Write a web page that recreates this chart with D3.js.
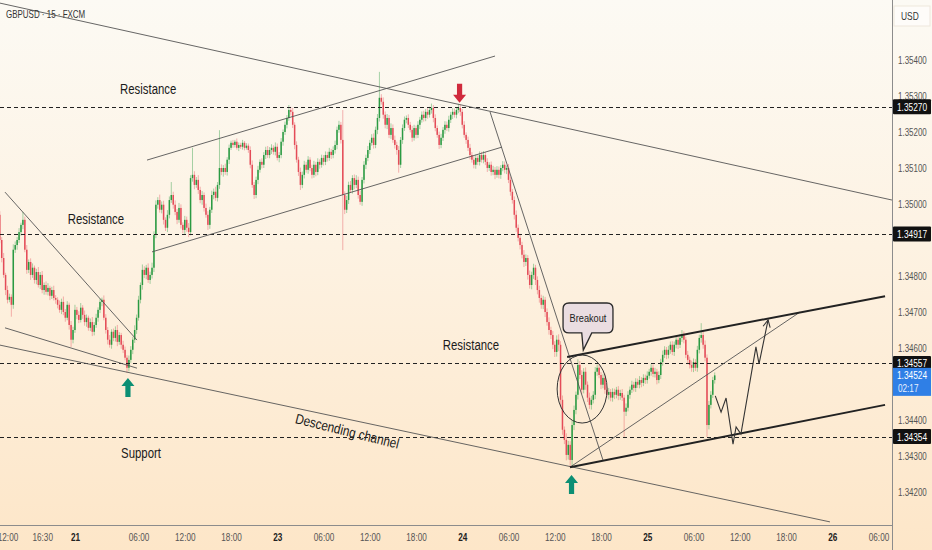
<!DOCTYPE html>
<html><head><meta charset="utf-8">
<script src="https://cdn.jsdelivr.net/npm/d3@7"></script>
<style>html,body{margin:0;padding:0;overflow:hidden;background:#fdf3e2}
text{font-family:"Liberation Sans",Arial,sans-serif}</style>
</head><body><svg id="c" width="932" height="550"></svg>
<script>
// ---------------- DATA ----------------
const symbolTitle = "GBPUSD · 15 · FXCM";
const firstIndex = -4;          // bar index of first candle
const firstOpen = 1.34970;
const closes = [
1.34900,1.34850,1.34803,1.34761,1.34734,1.34742,1.34720,1.34873,1.34886,1.34900,
1.34922,1.34942,1.34956,1.34873,1.34817,1.34839,1.34803,1.34823,1.34789,1.34811,
1.34775,1.34803,1.34761,1.34775,1.34756,1.34767,1.34745,1.34761,1.34739,1.34734,
1.34720,1.34706,1.34728,1.34700,1.34684,1.34720,1.34664,1.34623,1.34650,1.34706,
1.34692,1.34678,1.34712,1.34692,1.34672,1.34684,1.34656,1.34672,1.34645,1.34664,
1.34684,1.34706,1.34728,1.34734,1.34684,1.34650,1.34623,1.34609,1.34645,1.34628,
1.34650,1.34617,1.34636,1.34609,1.34595,1.34573,1.34545,1.34567,1.34595,1.34623,
1.34650,1.34684,1.34734,1.34775,1.34817,1.34803,1.34823,1.34789,1.34803,1.34823,
1.34914,1.34998,1.35011,1.34984,1.34998,1.34956,1.34934,1.34970,1.35011,1.35025,
1.34998,1.34978,1.34956,1.34989,1.34942,1.34928,1.34956,1.34934,1.34922,1.35072,
1.35081,1.35053,1.35067,1.35039,1.35011,1.35025,1.34989,1.34970,1.34942,1.34984,
1.35025,1.35034,1.35017,1.35053,1.35100,1.35089,1.35100,1.35089,1.35123,1.35156,
1.35170,1.35164,1.35173,1.35156,1.35164,1.35159,1.35170,1.35156,1.35162,1.35150,
1.35109,1.35053,1.35025,1.35067,1.35095,1.35117,1.35109,1.35136,1.35150,1.35136,
1.35150,1.35156,1.35145,1.35159,1.35128,1.35136,1.35173,1.35200,1.35220,1.35239,
1.35261,1.35256,1.35220,1.35164,1.35123,1.35089,1.35053,1.35081,1.35109,1.35095,
1.35123,1.35100,1.35081,1.35109,1.35089,1.35117,1.35109,1.35128,1.35117,1.35136,
1.35128,1.35145,1.35136,1.35150,1.35164,1.35206,1.35220,1.35178,1.35025,1.34984,
1.35011,1.35053,1.35039,1.35072,1.35053,1.35067,1.35025,1.35006,1.35067,1.35109,
1.35128,1.35150,1.35170,1.35184,1.35164,1.35206,1.35239,1.35295,1.35284,1.35248,
1.35220,1.35239,1.35192,1.35211,1.35178,1.35164,1.35150,1.35109,1.35178,1.35211,
1.35234,1.35239,1.35220,1.35206,1.35184,1.35211,1.35192,1.35220,1.35234,1.35248,
1.35239,1.35256,1.35248,1.35261,1.35267,1.35239,1.35211,1.35192,1.35164,1.35184,
1.35206,1.35220,1.35211,1.35234,1.35248,1.35256,1.35248,1.35261,1.35267,1.35256,
1.35220,1.35192,1.35178,1.35156,1.35136,1.35123,1.35109,1.35128,1.35117,1.35136,
1.35123,1.35136,1.35117,1.35100,1.35109,1.35089,1.35095,1.35081,1.35095,1.35081,
1.35100,1.35109,1.35095,1.35100,1.35067,1.35034,1.35011,1.34970,1.34934,1.34906,
1.34886,1.34859,1.34839,1.34850,1.34803,1.34775,1.34803,1.34823,1.34789,1.34761,
1.34739,1.34720,1.34734,1.34700,1.34672,1.34650,1.34636,1.34609,1.34589,1.34623,
1.34609,1.34456,1.34373,1.34345,1.34303,1.34331,1.34289,1.34386,1.34428,1.34470,
1.34553,1.34525,1.34484,1.34534,1.34498,1.34462,1.34442,1.34456,1.34470,1.34534,
1.34545,1.34525,1.34498,1.34517,1.34484,1.34470,1.34478,1.34462,1.34478,1.34470,
1.34484,1.34467,1.34475,1.34462,1.34423,1.34434,1.34470,1.34484,1.34498,1.34489,
1.34506,1.34498,1.34511,1.34503,1.34517,1.34511,1.34523,1.34534,1.34545,1.34528,
1.34534,1.34511,1.34525,1.34561,1.34581,1.34595,1.34581,1.34595,1.34609,1.34589,
1.34609,1.34623,1.34609,1.34628,1.34636,1.34623,1.34581,1.34567,1.34553,1.34545,
1.34561,1.34545,1.34595,1.34628,1.34636,1.34609,1.34573,1.34386,1.34442,1.34470,
1.34511,1.34524];
// wick lengths beyond body, in points (0.00001)
const wickUp = [
10,8,14,6,12,9,7,15,10,8, 11,6,22,9,13,7,10,12,6,9, 14,8,11,7,10,13,6,9,12,8, 7,12,9,15,8,10,6,11,9,14,
8,10,13,7,12,9,6,10,14,8, 11,7,9,6,12,10,8,13,7,9, 10,14,8,6,11,9,7,12,10,8, 13,9,11,7,15,10,8,12,9,14,
10,12,8,15,9,11,7,13,10,36, 9,12,8,14,10,7,11,9,13,8, 75,10,8,13,9,11,7,12,10,8, 12,9,14,8,105,10,8,12,7,9,
6,8,5,9,7,6,8,5,7,6, 10,12,8,9,11,7,10,8,9,11, 8,10,7,12,9,8,10,7,9,8, 14,9,11,7,10,8,12,9,11,8,
10,7,9,11,8,10,7,9,8,10, 9,11,8,10,12,9,11,8,83,10, 12,9,11,8,10,13,9,12,8,10, 9,11,8,10,12,9,11,72,10,12,
9,11,8,13,10,12,9,11,8,10, 9,7,10,8,11,9,7,10,8,9, 11,8,10,9,12,8,10,7,9,11, 8,10,9,11,8,10,9,7,11,9,
8,10,7,9,11,8,10,9,7,10, 9,11,8,10,7,9,11,8,10,9, 8,10,9,7,11,9,8,10,12,9, 11,9,13,10,8,12,9,11,8,10,
12,9,11,8,10,13,9,11,10,12, 15,10,12,9,18,11,10,14,12,9, 16,11,13,10,12,9,14,11,10,13, 9,11,8,10,12,9,11,8,10,9,
8,10,9,11,8,12,10,9,11,8, 10,9,11,8,10,9,12,8,10,9, 11,8,10,9,12,10,8,11,9,10, 9,11,8,10,14,10,8,11,9,12,
10,8,11,9,33,10,12,9,11,10, 9,8];
const wickDn = [
9,12,8,14,10,7,33,11,9,13, 8,10,12,7,11,9,14,8,10,12, 7,11,9,13,8,10,12,9,7,11, 10,8,12,9,11,7,13,20,10,8,
12,9,7,11,10,13,8,9,12,10, 8,11,9,12,7,10,13,8,11,9, 10,12,8,11,9,7,14,10,8,12, 9,11,8,10,13,9,12,8,11,10,
12,9,11,8,10,13,9,12,10,8, 11,9,12,8,10,9,13,11,14,9, 10,12,8,11,9,13,10,8,14,11, 9,12,8,10,11,9,13,8,10,12,
6,8,7,5,9,6,8,7,5,8, 10,8,11,9,12,8,10,9,11,8, 9,11,8,10,7,12,9,11,8,10, 8,10,9,12,8,11,14,9,10,8,
11,9,10,8,12,9,11,8,10,9, 10,8,11,9,10,12,8,10,153,12, 9,11,8,10,12,9,10,8,11,10, 12,9,11,8,10,9,12,10,8,11,
10,12,9,11,8,10,13,22,9,11, 8,10,9,7,11,8,10,9,12,8, 10,9,11,8,10,12,9,8,11,9, 9,11,8,10,9,12,8,10,9,11,
10,8,11,9,12,8,10,11,9,10, 8,10,9,11,8,10,9,12,8,10, 11,9,10,12,9,11,10,13,11,10, 12,10,14,11,13,10,12,11,14,12,
13,11,12,14,10,13,11,12,14,13, 18,16,14,12,15,13,20,16,14,12, 13,11,12,10,14,12,11,13,10,12, 11,9,12,10,11,9,13,10,11,12,
10,12,11,9,70,12,10,11,9,10, 11,9,10,12,9,11,10,8,11,9, 10,12,9,11,10,9,12,10,11,9, 11,10,12,9,11,10,9,12,10,11,
12,9,11,10,13,11,10,33,12,10, 9,10];

const timeTickIdx    = [0,18,35,68,92,116,140,164,188,212,236,260,284,308,332,356,380,404,428,452];
const timeTickLabels = ["12:00","16:30","21","06:00","12:00","18:00","23","06:00","12:00","18:00","24","06:00","12:00","18:00","25","06:00","12:00","18:00","26","06:00"];
const dayLabels = ["21","23","24","25","26"];
// visible price-scale labels (1.34500 and 1.34900 sit under the price tags)
const priceTicks = [1.342,1.343,1.344,1.346,1.347,1.348,1.350,1.351,1.352,1.353,1.354];
const levels = [1.35270, 1.34917, 1.34557, 1.34354];
const currentPrice = 1.34524;
const countdown = "02:17";

// trend lines: [[barIndex, price],[barIndex, price]]
const thinLines = [
  [[-3.9,1.35558],[459.0,1.35011]],   // upper descending
  [[72.4,1.35122],[253.0,1.35411]],   // rising channel top
  [[75.0,1.34867],[256.6,1.35158]],   // rising channel bottom
  [[-1.3,1.35033],[67.2,1.34622]],    // wedge top
  [[-1.3,1.34656],[67.2,1.34544]],    // wedge bottom
  [[-3.9,1.34608],[426.8,1.34117]],   // descending channel bottom
  [[250.4,1.35256],[309.0,1.34289]],  // steep drop line
  [[291.9,1.34269],[411.3,1.34700]]   // thin rising diagonal
];
const thickLines = [
  [[290.4,1.34575],[455.4,1.34744]],  // rising channel top (right)
  [[291.9,1.34269],[455.4,1.34442]]   // rising channel bottom (right)
];
const projection = [[367.3,1.34467],[370.3,1.34422],[372.9,1.34461],[376.5,1.34333],[378.1,1.34381],[380.6,1.34361],[388.4,1.34603],[390.0,1.34556],[394.7,1.34678]];
const textLabels = [
  {t:"Resistance", i:73.0,  p:1.35306},
  {t:"Resistance", i:45.9,  p:1.34944},
  {t:"Resistance", i:240.5, p:1.34594},
  {t:"Support",    i:69.3,  p:1.34294}
];
const channelLabel = {t:"Descending channel", i:175.7, p:1.34356};
const upArrows = [[62.5,1.34517],[292.7,1.34247]];
const downArrows = [[234.6,1.35281]];
const circleCenter = [298.2,1.34486];
const bubble = {t:"Breakout", i0:288.3, i1:314.2, pTop:1.34725, pBot:1.34642, tail0:298.0, tail1:303.2, tipI:298.8, tipP:1.34594};

// ---------------- CHART ----------------
const W = 932, H = 550, plotR = 892, plotB = 525;
const svg = d3.select("#c");
const x = d3.scaleLinear().domain([0,452]).range([7.5,878.5]);
const y = d3.scaleLinear().domain([1.342,1.354]).range([492,60]);

// condensed-look helper: horizontally squeeze a text around its anchor
function narrow(sel, sx, rot) {
  sel.each(function(){
    const t = d3.select(this);
    const tx = +t.attr("x") || 0, ty = +t.attr("y") || 0;
    t.attr("x",0).attr("y",0).attr("transform",`translate(${tx},${ty})${rot?` rotate(${rot})`:""} scale(${sx},1)`);
  });
}

const defs = svg.append("defs");
const g1 = defs.append("linearGradient").attr("id","bg").attr("x1",0).attr("y1",0).attr("x2",0).attr("y2",1);
g1.append("stop").attr("offset","0%").attr("stop-color","#fcfaf4");
g1.append("stop").attr("offset","45%").attr("stop-color","#fdf2e2");
g1.append("stop").attr("offset","100%").attr("stop-color","#fde6c8");
defs.append("clipPath").attr("id","plot").append("rect").attr("x",0).attr("y",0).attr("width",plotR).attr("height",plotB);
const mk = defs.append("marker").attr("id","ah").attr("viewBox","0 0 10 10").attr("refX",9).attr("refY",5)
  .attr("markerWidth",9).attr("markerHeight",9).attr("orient","auto").attr("markerUnits","userSpaceOnUse");
mk.append("path").attr("d","M1,1 L9,5 L1,9").attr("fill","none").attr("stroke","#333").attr("stroke-width",1.2);

svg.append("rect").attr("width",W).attr("height",H).attr("fill","url(#bg)");

const plot = svg.append("g").attr("clip-path","url(#plot)");

// candles
let prev = firstOpen;
const candles = closes.map((c,k)=>{
  const o = prev; prev = c;
  return {i:k+firstIndex, o, c, hi:Math.max(o,c)+wickUp[k]*1e-5, lo:Math.min(o,c)-wickDn[k]*1e-5};
});
const up = "#2a9a42", dn = "#e44c58";
plot.append("g").selectAll("line").data(candles).join("line")
  .attr("x1",d=>x(d.i)).attr("x2",d=>x(d.i)).attr("y1",d=>y(d.hi)).attr("y2",d=>y(d.lo))
  .attr("stroke",d=>d.c>=d.o?up:dn).attr("stroke-width",0.7).attr("stroke-opacity",0.6);
plot.append("g").selectAll("rect").data(candles).join("rect")
  .attr("x",d=>x(d.i)-0.75).attr("width",1.5)
  .attr("y",d=>y(Math.max(d.o,d.c)))
  .attr("height",d=>Math.max(0.8, y(Math.min(d.o,d.c))-y(Math.max(d.o,d.c))))
  .attr("fill",d=>d.c>=d.o?up:dn);

// level lines
plot.append("g").selectAll("line").data(levels).join("line")
  .attr("x1",0).attr("x2",plotR).attr("y1",d=>Math.round(y(d))+0.5).attr("y2",d=>Math.round(y(d))+0.5)
  .attr("stroke","#222").attr("stroke-width",1).attr("stroke-dasharray","4,3");

// trend lines
const ln = d3.line().x(d=>x(d[0])).y(d=>y(d[1]));
plot.append("g").selectAll("path").data(thinLines).join("path")
  .attr("d",ln).attr("fill","none").attr("stroke","#555").attr("stroke-width",0.9);
plot.append("g").selectAll("path").data(thickLines).join("path")
  .attr("d",ln).attr("fill","none").attr("stroke","#222").attr("stroke-width",2);
plot.append("path").datum(projection).attr("d",ln).attr("fill","none")
  .attr("stroke","#333").attr("stroke-width",1.1).attr("marker-end","url(#ah)");

// circle
plot.append("ellipse").attr("cx",x(circleCenter[0])).attr("cy",y(circleCenter[1]))
  .attr("rx",25).attr("ry",34).attr("fill","none").attr("stroke","#333").attr("stroke-width",1);

// bubble
{
  const bx0=x(bubble.i0), bx1=x(bubble.i1), by0=y(bubble.pTop), by1=y(bubble.pBot), r=6;
  const t0=x(bubble.tail0), t1=x(bubble.tail1), tx=x(bubble.tipI), ty=y(bubble.tipP);
  const d=`M${bx0+r},${by0} H${bx1-r} Q${bx1},${by0} ${bx1},${by0+r} V${by1-r} Q${bx1},${by1} ${bx1-r},${by1} H${t1} L${tx},${ty} L${t0},${by1} H${bx0+r} Q${bx0},${by1} ${bx0},${by1-r} V${by0+r} Q${bx0},${by0} ${bx0+r},${by0} Z`;
  plot.append("path").attr("d",d).attr("fill","#eadde1").attr("stroke","#2a2a2a").attr("stroke-width",1.3);
  plot.append("text").attr("x",(bx0+bx1)/2).attr("y",(by0+by1)/2+4).attr("text-anchor","middle")
    .attr("font-size",11.5).attr("fill","#222").text(bubble.t).call(narrow,0.8);
}

// arrows
const upPath = (tx,ty)=>`M${tx},${ty} L${tx+6.5},${ty+8} L${tx+2.6},${ty+8} L${tx+2.6},${ty+19} L${tx-2.6},${ty+19} L${tx-2.6},${ty+8} L${tx-6.5},${ty+8} Z`;
const dnPath = (tx,ty)=>`M${tx},${ty} L${tx+6.5},${ty-8} L${tx+2.6},${ty-8} L${tx+2.6},${ty-19} L${tx-2.6},${ty-19} L${tx-2.6},${ty-8} L${tx-6.5},${ty-8} Z`;
plot.append("g").selectAll("path").data(upArrows).join("path").attr("d",d=>upPath(x(d[0]),y(d[1]))).attr("fill","#0c8f74");
plot.append("g").selectAll("path").data(downArrows).join("path").attr("d",d=>dnPath(x(d[0]),y(d[1]))).attr("fill","#d02a3c");

// texts
plot.append("g").selectAll("text").data(textLabels).join("text")
  .attr("x",d=>x(d.i)).attr("y",d=>y(d.p)).attr("text-anchor","middle")
  .attr("font-size",15).attr("fill","#1a1a1a").text(d=>d.t).call(narrow,0.76);
plot.append("text").attr("x",x(channelLabel.i)).attr("y",y(channelLabel.p))
  .attr("text-anchor","middle").attr("font-size",14).attr("fill","#1a1a1a").text(channelLabel.t).call(narrow,0.84,14);

// header
svg.append("text").attr("x",6).attr("y",18).attr("font-size",10.5).attr("fill","#333").text(symbolTitle).call(narrow,0.76);

// axes
const yAxis = svg.append("g").attr("transform",`translate(${plotR},0)`)
  .call(d3.axisRight(y).tickValues(priceTicks).tickFormat(d3.format(".5f")).tickSize(0).tickPadding(6));
yAxis.select(".domain").remove();
yAxis.selectAll("text").attr("font-size",10.5).attr("fill","#555").call(narrow,0.76);

const xAxis = svg.append("g").attr("transform",`translate(0,${plotB})`)
  .call(d3.axisBottom(x).tickValues(timeTickIdx).tickFormat((d,j)=>timeTickLabels[j]).tickSize(0).tickPadding(9));
xAxis.select(".domain").remove();
xAxis.selectAll("text").attr("font-size",10.5)
  .attr("fill",(d,j)=>dayLabels.includes(timeTickLabels[j])?"#222":"#555")
  .attr("font-weight",(d,j)=>dayLabels.includes(timeTickLabels[j])?"bold":"normal")
  .call(narrow,0.78);

svg.append("line").attr("x1",0).attr("x2",plotR).attr("y1",plotB+0.5).attr("y2",plotB+0.5).attr("stroke","#8c8c8c");
svg.append("line").attr("x1",plotR+0.5).attr("x2",plotR+0.5).attr("y1",0).attr("y2",H).attr("stroke","#8c8c8c");

// USD label
svg.append("rect").attr("x",894).attr("y",6).attr("width",36).attr("height",20).attr("fill","#fefcf9").attr("stroke","#eee7dc");
svg.append("text").attr("x",901).attr("y",20).attr("font-size",10.5).attr("fill","#333").text("USD").call(narrow,0.8);

// price tags
const tagG = svg.append("g");
levels.forEach(v=>{
  const cy = y(v);
  tagG.append("rect").attr("x",893).attr("y",cy-7.5).attr("width",38).attr("height",15).attr("rx",1).attr("fill","#111");
  tagG.append("text").attr("x",912).attr("y",cy+4).attr("text-anchor","middle").attr("font-size",11)
    .attr("fill","#fff").text(d3.format(".5f")(v)).call(narrow,0.76);
});
{
  const cy = y(currentPrice);
  tagG.append("rect").attr("x",893).attr("y",cy-7.5).attr("width",38).attr("height",28).attr("fill","#2f7fe6");
  tagG.append("text").attr("x",912).attr("y",cy+4).attr("text-anchor","middle").attr("font-size",11)
    .attr("fill","#fff").text(d3.format(".5f")(currentPrice)).call(narrow,0.76);
  tagG.append("text").attr("x",898).attr("y",cy+17).attr("font-size",10.5)
    .attr("fill","#e8f0ff").text(countdown).call(narrow,0.78);
}
</script></body></html>
